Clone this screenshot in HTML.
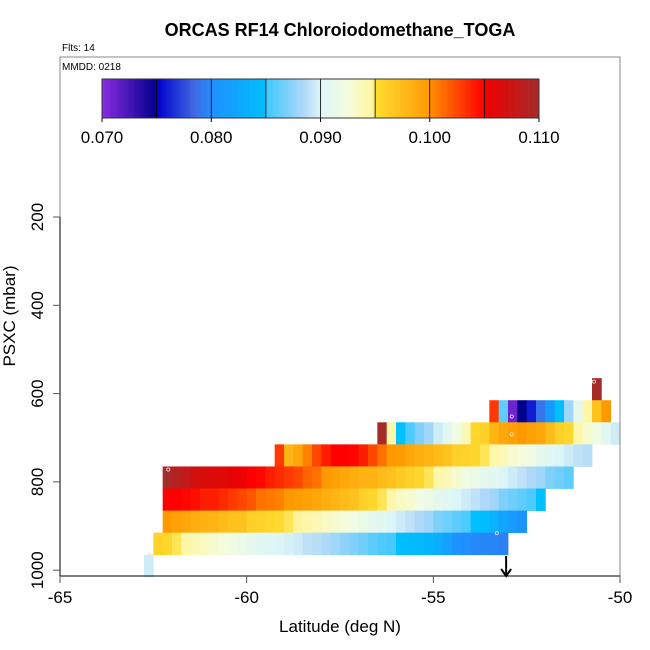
<!DOCTYPE html>
<html><head><meta charset="utf-8"><style>
body{margin:0;background:#fff;}
svg{display:block;font-family:"Liberation Sans",sans-serif;}
</style></head><body>
<svg id="chart" width="650" height="650" viewBox="0 0 650 650" xmlns="http://www.w3.org/2000/svg">
<text x="340" y="36" text-anchor="middle" font-size="18" font-weight="bold">ORCAS RF14 Chloroiodomethane_TOGA</text>
<text x="62" y="51" font-size="10">Flts: 14</text>
<g id="plot"></g>
<rect x="60" y="57" width="560" height="519" fill="none" stroke="#888" stroke-width="1"/>
<text x="62" y="70" font-size="10">MMDD: 0218</text>
<g id="cbar"></g>
<g id="axes"></g>
<text x="340" y="632" text-anchor="middle" font-size="17">Latitude (deg N)</text>
<text transform="translate(15,316) rotate(-90)" text-anchor="middle" font-size="17">PSXC (mbar)</text>
</svg>
<script>
// Data
const rowPressureTop = [565, 615, 665, 715, 765, 815, 865, 915, 965];
const rowLatStart = [-50.75, -53.5, -56.5, -59.25, -62.25, -62.25, -62.25, -62.5, -62.75];
const rowA = [0.110];
const rowB = [0.103,0.086,0.071,0.075,0.076,0.079,0.081,0.085,0.088,0.091,0.0945,0.097,0.100];
const rowC = [0.110,0.0945,0.085,0.0855,0.087,0.088,0.0895,0.0905,0.092,0.094,0.0955,0.096,0.098,0.099,0.0995,0.100,0.0995,0.099,0.0975,0.096,0.0955,0.0945,0.093,0.092,0.0905,0.0895];
const rowD = [0.103,0.098,0.099,0.1005,0.1025,0.104,0.105,0.105,0.1048,0.104,0.1025,0.101,0.100,0.0998,0.099,0.0985,0.098,0.0975,0.097,0.096,0.0958,0.0955,0.095,0.0945,0.094,0.093,0.0925,0.092,0.091,0.0905,0.090,0.0895,0.089,0.0888];
const rowE = [0.110,0.109,0.108,0.107,0.1065,0.1063,0.106,0.1055,0.1052,0.105,0.1048,0.104,0.1035,0.103,0.1025,0.1015,0.101,0.100,0.0995,0.099,0.0985,0.098,0.098,0.0975,0.097,0.0965,0.096,0.0955,0.095,0.0945,0.094,0.093,0.092,0.0915,0.091,0.0905,0.090,0.0895,0.089,0.0885,0.088,0.087,0.0865,0.086];
const rowF = [0.105,0.105,0.1048,0.1045,0.104,0.104,0.1035,0.103,0.1025,0.102,0.101,0.1008,0.1005,0.100,0.0998,0.0995,0.099,0.0985,0.098,0.0975,0.097,0.096,0.0955,0.095,0.0945,0.0935,0.093,0.092,0.0915,0.091,0.0905,0.090,0.0895,0.089,0.0885,0.088,0.087,0.0865,0.086,0.0855,0.085];
const rowG = [0.100,0.0995,0.099,0.0985,0.0982,0.098,0.0975,0.097,0.097,0.096,0.0958,0.0955,0.0953,0.095,0.0948,0.0945,0.094,0.0935,0.093,0.0925,0.092,0.0915,0.091,0.0905,0.090,0.0895,0.089,0.0885,0.088,0.087,0.0865,0.086,0.0855,0.085,0.0848,0.0835,0.082,0.0812,0.0805];
const rowH = [0.0958,0.0955,0.095,0.0945,0.094,0.0935,0.093,0.0925,0.092,0.0915,0.091,0.0905,0.0902,0.090,0.0898,0.0895,0.089,0.0888,0.0885,0.088,0.0875,0.087,0.0865,0.086,0.0855,0.0853,0.085,0.0848,0.0845,0.084,0.083,0.082,0.0805,0.080,0.0798,0.0797,0.0796,0.0795];
const rowI = [0.0895];
const rows = [rowA,rowB,rowC,rowD,rowE,rowF,rowG,rowH,rowI];
const pointLats = [-62.1, -50.7, -52.9, -52.9, -53.3, -50.05, -62.6];
const pointPres = [772, 573, 652, 692, 916, 690, 965];
const xTicks = [-65, -60, -55, -50];
const yTicks = [200, 400, 600, 800, 1000];
const cbarTicks = [0.070, 0.080, 0.090, 0.100, 0.110];
const cbarTickLabels = ["0.070","0.080","0.090","0.100","0.110"];

const NS = "http://www.w3.org/2000/svg";
const xScale = lat => 60 + (lat + 65) / 15 * 560;
const yScale = p => 217 + (p - 200) * 0.4415;
const cellW = 0.25, cellH = 50;
const stops = [
 [0.070,"#8a2be2"],[0.075,"#00008b"],[0.0751,"#0000cd"],[0.0785,"#4169e1"],[0.0801,"#1e90ff"],
 [0.085,"#00bfff"],[0.0851,"#40c8ff"],[0.0885,"#b0d8f8"],[0.090,"#dcf6f8"],[0.0925,"#f4fcdc"],
 [0.0948,"#fff5a0"],[0.0951,"#ffdc30"],[0.100,"#ff9900"],[0.1001,"#ff8c00"],[0.105,"#ff0000"],
 [0.1051,"#ee0000"],[0.110,"#a52a2a"]];
function hex(c){return [1,3,5].map(i=>parseInt(c.substr(i,2),16));}
function color(v){
  if(v<=stops[0][0]) return stops[0][1];
  for(let i=1;i<stops.length;i++){
    if(v<=stops[i][0]){
      const [v0,c0]=stops[i-1],[v1,c1]=stops[i];
      const t=(v-v0)/(v1-v0),a=hex(c0),b=hex(c1);
      return "rgb("+a.map((x,k)=>Math.round(x+(b[k]-x)*t)).join(",")+")";
    }
  }
  return stops[stops.length-1][1];
}
function mk(tag, attrs, parent){const e=document.createElementNS(NS,tag);for(const k in attrs)e.setAttribute(k,attrs[k]);parent.appendChild(e);return e;}

const plot=document.getElementById("plot");
rows.forEach((vals,r)=>{
  vals.forEach((v,i)=>{
    const lat0=rowLatStart[r]+i*cellW, p0=rowPressureTop[r];
    const x0=xScale(lat0), x1=xScale(lat0+cellW), y0=yScale(p0), y1=yScale(p0+cellH);
    const el=mk("rect",{x:x0.toFixed(2),y:y0.toFixed(2),width:(x1-x0+0.4).toFixed(2),height:(y1-y0+0.4).toFixed(2),fill:color(v)},plot);
    
    
  });
});
pointLats.forEach((lat,i)=>{
  const c=mk("circle",{cx:xScale(lat),cy:yScale(pointPres[i]),r:1.6,fill:"none",stroke:"#f0e0e0","stroke-width":0.8},plot);
  
  
});
const ax=xScale(-53.05);
const arr=mk("g",{},plot);


mk("line",{x1:ax,y1:556,x2:ax,y2:576,stroke:"#000","stroke-width":2},arr);
mk("polyline",{points:`${ax-5},569 ${ax},576 ${ax+5},569`,fill:"none",stroke:"#000","stroke-width":2},arr);

const cb=document.getElementById("cbar");
const cx0=102,cx1=539,cy0=79,cy1=118;
const cbs=v=>cx0+(v-0.07)/0.04*(cx1-cx0);
for(let k=0;k<200;k++){
  const v0=0.07+k*0.0002;
  const el=mk("rect",{x:cbs(v0),y:cy0,width:(cx1-cx0)/200+0.3,height:cy1-cy0,fill:color(v0+0.0001)},cb);
  
  
}
for(let k=1;k<8;k++){
  mk("line",{x1:cbs(0.07+k*0.005),x2:cbs(0.07+k*0.005),y1:cy0,y2:cy1,stroke:"#000","stroke-width":0.8},cb);
}
mk("rect",{x:cx0,y:cy0,width:cx1-cx0,height:cy1-cy0,fill:"none",stroke:"#333","stroke-width":1},cb);
cbarTicks.forEach((v,i)=>{
  mk("line",{x1:cbs(v),x2:cbs(v),y1:cy1,y2:cy1+4,stroke:"#000"},cb);
  const t=mk("text",{x:cbs(v),y:143,"text-anchor":"middle","font-size":17},cb);
  t.textContent=cbarTickLabels[i];
  
  
});

const axes=document.getElementById("axes");
mk("line",{x1:60,x2:620,y1:576,y2:576,stroke:"#000"},axes);
mk("line",{x1:60,x2:60,y1:yScale(200),y2:576,stroke:"#000"},axes);
xTicks.forEach(v=>{
  mk("line",{x1:xScale(v),x2:xScale(v),y1:576,y2:583,stroke:"#555"},axes);
  const t=mk("text",{x:xScale(v),y:603,"text-anchor":"middle","font-size":17},axes);
  t.textContent=String(v);
  
  
});
yTicks.forEach(v=>{
  const y=Math.min(yScale(v),576);
  mk("line",{x1:53,x2:60,y1:y,y2:y,stroke:"#555"},axes);
  const t=mk("text",{transform:`translate(43,${y}) rotate(-90)`,"text-anchor":"middle","font-size":17},axes);
  t.textContent=String(v);
  
  
});
</script>
</body></html>
